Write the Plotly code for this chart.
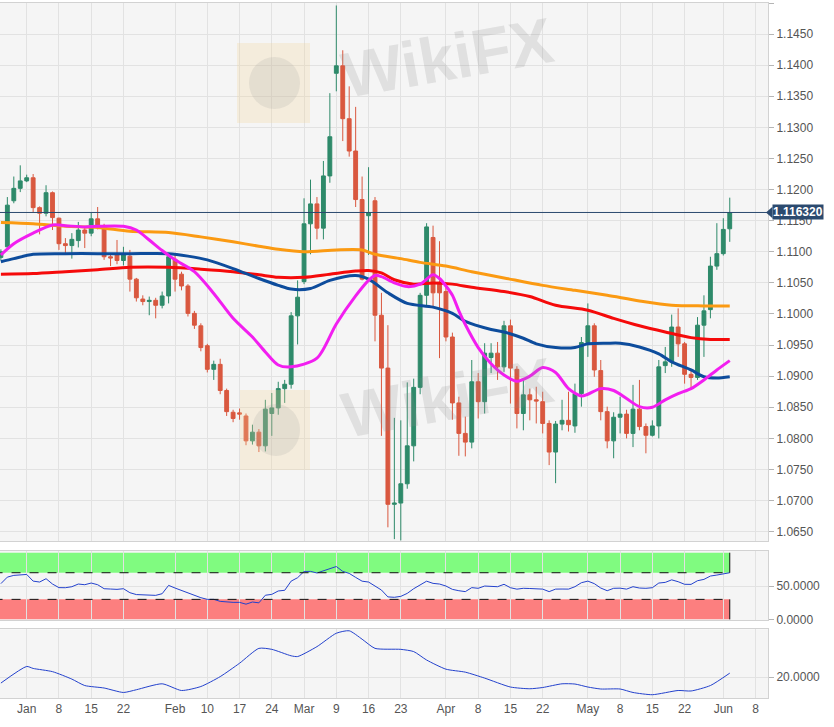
import pandas as pd
import plotly.graph_objects as go
from plotly.subplots import make_subplots

# ------------------------------------------------------------------ data
candle_dates = [d.strftime("%Y-%m-%d") for d in pd.bdate_range("2019-12-24", "2020-06-02")]

opens = [
    1.1089, 1.1090, 1.1091, 1.1108, 1.1182, 1.1202,                      # Dec
    1.1214, 1.1219, 1.1171, 1.1162, 1.1195, 1.1154, 1.1113, 1.1110, 1.1118, 1.1135,
    1.1130, 1.1153, 1.1141, 1.1092, 1.1095, 1.1086, 1.1093, 1.1056, 1.1024, 1.1020,
    1.1022, 1.1014, 1.1029,                                              # Jan
    1.1088, 1.1064, 1.1045, 1.1001, 1.0981, 1.0949, 1.0911, 1.0919, 1.0877, 1.0842,
    1.0841, 1.0836, 1.0796, 1.0810, 1.0788, 1.0840, 1.0849, 1.0880, 1.0887, 1.0997,  # Feb
    1.1052, 1.1145, 1.1177, 1.1138, 1.1222, 1.1387, 1.1399, 1.1314, 1.1262, 1.1184,
    1.1158, 1.1182, 1.0998, 1.0913, 1.0694, 1.0696, 1.0727, 1.0788, 1.0882, 1.1030,
    1.1123, 1.1051,                                                      # Mar
    1.1036, 1.0963, 1.0857, 1.0808, 1.0794, 1.0891, 1.0859, 1.0930, 1.0937, 1.0915,
    1.0981, 1.0911, 1.0840, 1.0870, 1.0862, 1.0859, 1.0824, 1.0778, 1.0823, 1.0829,
    1.0820, 1.0872,                                                      # Apr
    1.0954, 1.0981, 1.0909, 1.0843, 1.0796, 1.0834, 1.0839, 1.0808, 1.0847, 1.0819,
    1.0805, 1.0820, 1.0917, 1.0923, 1.0979, 1.0952, 1.0903, 1.0898, 1.0982, 1.1007,
    1.1077,                                                              # May
    1.1097, 1.1137,                                                      # Jun
]
highs = [
    1.1093, 1.1095, 1.1104, 1.1188, 1.1221, 1.1239,
    1.1224, 1.1225, 1.1173, 1.1207, 1.1197, 1.1155, 1.1122, 1.1130, 1.1148, 1.1140,
    1.1163, 1.1172, 1.1145, 1.1096, 1.1119, 1.1108, 1.1103, 1.1058, 1.1030, 1.1028,
    1.1026, 1.1036, 1.1097,
    1.1095, 1.1068, 1.1048, 1.1005, 1.0985, 1.0952, 1.0925, 1.0928, 1.0880, 1.0846,
    1.0848, 1.0840, 1.0822, 1.0815, 1.0862, 1.0873, 1.0891, 1.0894, 1.1003, 1.1054,
    1.1186, 1.1216, 1.1188, 1.1246, 1.1355, 1.1496, 1.1424, 1.1366, 1.1333, 1.1221,
    1.1236, 1.1188, 1.1034, 1.0982, 1.0833, 1.0829, 1.0890, 1.0896, 1.1034, 1.1146,
    1.1142, 1.1117,
    1.1045, 1.0970, 1.0867, 1.0835, 1.0926, 1.0905, 1.0953, 1.0953, 1.0955, 1.0989,
    1.0991, 1.0916, 1.0896, 1.0880, 1.0883, 1.0875, 1.0829, 1.0828, 1.0862, 1.0875,
    1.0888, 1.0963,
    1.1017, 1.0985, 1.0926, 1.0851, 1.0842, 1.0867, 1.0846, 1.0886, 1.0894, 1.0824,
    1.0829, 1.0926, 1.0947, 1.0999, 1.1009, 1.0955, 1.0910, 1.0995, 1.1030, 1.1092,
    1.1146,
    1.1154, 1.1187,
]
lows = [
    1.1082, 1.1086, 1.1086, 1.1105, 1.1178, 1.1196,
    1.1212, 1.1164, 1.1128, 1.1157, 1.1135, 1.1103, 1.1095, 1.1089, 1.1107, 1.1106,
    1.1125, 1.1136, 1.1087, 1.1077, 1.1080, 1.1078, 1.1036, 1.1020, 1.1014, 1.0998,
    1.0993, 1.1009, 1.1017,
    1.1036, 1.1038, 1.0996, 1.0976, 1.0940, 1.0906, 1.0894, 1.0871, 1.0836, 1.0826,
    1.0830, 1.0789, 1.0790, 1.0778, 1.0779, 1.0804, 1.0838, 1.0857, 1.0880, 1.0951,
    1.1048, 1.1096, 1.1120, 1.1120, 1.1211, 1.1358, 1.1278, 1.1253, 1.1172, 1.1054,
    1.1095, 1.0956, 1.0804, 1.0657, 1.0638, 1.0636, 1.0719, 1.0763, 1.0871, 1.1012,
    1.1012, 1.0929,
    1.0956, 1.0830, 1.0772, 1.0771, 1.0784, 1.0832, 1.0840, 1.0905, 1.0894, 1.0907,
    1.0856, 1.0816, 1.0813, 1.0829, 1.0824, 1.0808, 1.0757, 1.0728, 1.0813, 1.0811,
    1.0809, 1.0851,
    1.0931, 1.0899, 1.0829, 1.0784, 1.0768, 1.0808, 1.0800, 1.0786, 1.0813, 1.0776,
    1.0803, 1.0800, 1.0905, 1.0915, 1.0931, 1.0888, 1.0878, 1.0894, 1.0931, 1.0993,
    1.1071,
    1.1094, 1.1116,
]
closes = [
    1.1090, 1.1091, 1.1100, 1.1175, 1.1202, 1.1214,
    1.1219, 1.1171, 1.1162, 1.1195, 1.1155, 1.1113, 1.1110, 1.1120, 1.1135, 1.1130,
    1.1153, 1.1141, 1.1092, 1.1090, 1.1086, 1.1095, 1.1056, 1.1026, 1.1020, 1.1022,
    1.1014, 1.1029, 1.1092,
    1.1056, 1.1045, 1.1001, 1.0982, 1.0946, 1.0911, 1.0919, 1.0877, 1.0843, 1.0832,
    1.0839, 1.0796, 1.0810, 1.0788, 1.0847, 1.0849, 1.0880, 1.0887, 1.0997, 1.1027,
    1.1145, 1.1177, 1.1138, 1.1222, 1.1285, 1.1399, 1.1314, 1.1262, 1.1184, 1.1056,
    1.1163, 1.0998, 1.0913, 1.0694, 1.0696, 1.0727, 1.0788, 1.0882, 1.1030, 1.1140,
    1.1034, 1.1034,
    1.0963, 1.0857, 1.0808, 1.0794, 1.0891, 1.0859, 1.0937, 1.0937, 1.0915, 1.0981,
    1.0913, 1.0840, 1.0870, 1.0862, 1.0860, 1.0824, 1.0778, 1.0823, 1.0829, 1.0822,
    1.0872, 1.0954,
    1.0981, 1.0910, 1.0843, 1.0796, 1.0834, 1.0839, 1.0808, 1.0847, 1.0819, 1.0805,
    1.0820, 1.0915, 1.0923, 1.0979, 1.0952, 1.0903, 1.0898, 1.0982, 1.1005, 1.1077,
    1.1097,
    1.1136, 1.1163,
]
last_price = 1.116320

# moving averages
ma_fast_dates = ["2019-12-26", "2019-12-30", "2020-01-02", "2020-01-07", "2020-01-09", "2020-01-14",
                 "2020-01-16", "2020-01-22", "2020-01-24", "2020-01-28", "2020-01-30", "2020-02-03",
                 "2020-02-06", "2020-02-11", "2020-02-14", "2020-02-19", "2020-02-21", "2020-02-25",
                 "2020-02-27", "2020-03-04", "2020-03-09", "2020-03-12", "2020-03-16", "2020-03-17",
                 "2020-03-18", "2020-03-20", "2020-03-24", "2020-03-26", "2020-03-30", "2020-03-31",
                 "2020-04-01", "2020-04-02", "2020-04-03", "2020-04-06", "2020-04-08", "2020-04-10",
                 "2020-04-14", "2020-04-16", "2020-04-20", "2020-04-22", "2020-04-24", "2020-04-28",
                 "2020-04-30", "2020-05-01", "2020-05-05", "2020-05-07", "2020-05-11", "2020-05-13",
                 "2020-05-15", "2020-05-19", "2020-05-21", "2020-05-25", "2020-05-27", "2020-05-29",
                 "2020-06-02"]
ma_fast_values = [1.1095, 1.1113, 1.1130, 1.1143, 1.1142, 1.1140,
                  1.1141, 1.1141, 1.1135, 1.1119, 1.1102, 1.1087,
                  1.1068, 1.1033, 1.0993, 1.0963, 1.0939, 1.0918,
                  1.0915, 1.0929, 1.0984, 1.1029, 1.1054, 1.1062,
                  1.1060, 1.1050, 1.1044, 1.1048, 1.1063, 1.1057,
                  1.1045, 1.1030, 1.1005, 1.0983, 1.0946, 1.0920,
                  1.0902, 1.0892, 1.0900, 1.0914, 1.0906, 1.0880,
                  1.0868, 1.0871, 1.0880, 1.0877, 1.0864, 1.0851,
                  1.0850, 1.0862, 1.0872, 1.0880, 1.0894, 1.0910,
                  1.0925]

ma_mid_dates = ["2019-12-26", "2019-12-30", "2020-01-02", "2020-01-09", "2020-01-16", "2020-01-23",
                "2020-01-31", "2020-02-05", "2020-02-10", "2020-02-14", "2020-02-20", "2020-02-25",
                "2020-02-27", "2020-03-03", "2020-03-06", "2020-03-12", "2020-03-16", "2020-03-19",
                "2020-03-24", "2020-03-30", "2020-04-02", "2020-04-06", "2020-04-10", "2020-04-14",
                "2020-04-17", "2020-04-21", "2020-04-24", "2020-04-29", "2020-05-01", "2020-05-06",
                "2020-05-08", "2020-05-13", "2020-05-18", "2020-05-20", "2020-05-25", "2020-05-27",
                "2020-05-29", "2020-06-02"]
ma_mid_values = [1.1084, 1.1089, 1.1096, 1.1097, 1.1097, 1.1097,
                 1.1097, 1.1093, 1.1087, 1.1073, 1.1057, 1.1046,
                 1.1040, 1.1041, 1.1054, 1.1062, 1.1056, 1.1034,
                 1.1017, 1.1011, 1.1001, 1.0988, 1.0975, 1.0971,
                 1.0961, 1.0952, 1.0946, 1.0946, 1.0952, 1.0953,
                 1.0953, 1.0947, 1.0936, 1.0923, 1.0910, 1.0899,
                 1.0897, 1.0899]

ma_slow_dates = ["2019-12-26", "2020-01-02", "2020-01-09", "2020-01-16", "2020-01-23", "2020-01-31",
                 "2020-02-07", "2020-02-14", "2020-02-20", "2020-02-25", "2020-03-02", "2020-03-06",
                 "2020-03-12", "2020-03-16", "2020-03-18", "2020-03-20", "2020-03-25", "2020-03-30",
                 "2020-04-02", "2020-04-07", "2020-04-14", "2020-04-20", "2020-04-24", "2020-05-01",
                 "2020-05-07", "2020-05-13", "2020-05-19", "2020-05-25", "2020-05-28", "2020-06-02"]
ma_slow_values = [1.1064, 1.1065, 1.1068, 1.1071, 1.1075, 1.1075,
                  1.1072, 1.1068, 1.1063, 1.1059, 1.1059, 1.1064,
                  1.1069, 1.1070, 1.1066, 1.1055, 1.1048, 1.1050,
                  1.1048, 1.1043, 1.1036, 1.1028, 1.1014, 1.1006,
                  1.0993, 1.0981, 1.0971, 1.0962, 1.0959, 1.0959]

ma_long_dates = ["2019-12-26", "2020-01-02", "2020-01-09", "2020-01-16", "2020-01-23", "2020-01-31",
                 "2020-02-07", "2020-02-14", "2020-02-20", "2020-02-25", "2020-03-02", "2020-03-09",
                 "2020-03-13", "2020-03-17", "2020-03-23", "2020-03-26", "2020-04-01", "2020-04-07",
                 "2020-04-14", "2020-04-22", "2020-04-29", "2020-05-06", "2020-05-13", "2020-05-20",
                 "2020-05-27", "2020-06-02"]
ma_long_values = [1.1147, 1.1145, 1.1141, 1.1139, 1.1133, 1.1131,
                  1.1124, 1.1116, 1.1109, 1.1104, 1.1100, 1.1103,
                  1.1103, 1.1096, 1.1089, 1.1083, 1.1077, 1.1068,
                  1.1058, 1.1046, 1.1038, 1.1030, 1.1021, 1.1014,
                  1.1013, 1.1013]

# RSI (one value per candle from Dec 26)
rsi_dates = candle_dates[2:]
rsi_values = [
    53.6, 63.4, 66.0, 67.2,
    67.4, 57.4, 56.0, 61.0, 53.0, 47.6, 47.5, 49.0, 53.0, 52.0, 54.5, 52.0, 46.0,
    45.5, 45.0, 46.0, 40.0, 37.2, 36.5, 36.0, 36.0, 38.5, 51.0,
    47.0, 43.6, 39.0, 36.0, 32.5, 30.0, 30.0, 27.0, 26.0, 25.5, 25.5, 22.8, 26.0,
    24.8, 36.2, 37.5, 42.6, 43.6, 57.4, 62.5,
    71.9, 72.0, 69.6, 72.5, 75.5, 79.3, 72.0, 69.0, 63.0, 57.3, 56.0, 50.6, 44.0,
    33.7, 33.1, 34.5, 39.0, 46.0, 52.0, 57.3, 54.0, 53.0,
    50.0, 45.0, 43.0, 41.6, 47.6, 46.6, 50.0, 49.5, 49.0, 52.6, 47.5, 45.3, 46.6,
    46.3, 46.0, 45.4, 41.6, 45.4, 45.5, 45.4, 49.0, 55.0,
    57.4, 53.6, 47.0, 43.0, 46.6, 46.8, 45.4, 49.0, 47.0, 46.6, 47.5, 54.5, 55.5,
    59.3, 56.5, 52.6, 52.5, 58.0, 60.0, 65.0, 66.5,
    68.0, 70.0,
]
rsi_upper, rsi_lower = 70, 30

# ADX
adx_dates = ["2019-12-26", "2020-01-01", "2020-01-02", "2020-01-07", "2020-01-10", "2020-01-14",
             "2020-01-17", "2020-01-22", "2020-01-24", "2020-01-30", "2020-02-04", "2020-02-07",
             "2020-02-12", "2020-02-17", "2020-02-20", "2020-02-24", "2020-02-27", "2020-02-28",
             "2020-03-04", "2020-03-09", "2020-03-11", "2020-03-13", "2020-03-17", "2020-03-23",
             "2020-03-25", "2020-03-27", "2020-04-01", "2020-04-06", "2020-04-09", "2020-04-15",
             "2020-04-20", "2020-04-22", "2020-04-27", "2020-04-29", "2020-05-01", "2020-05-05",
             "2020-05-08", "2020-05-12", "2020-05-15", "2020-05-21", "2020-05-25", "2020-05-28",
             "2020-06-02"]
adx_values = [17.6, 24.3, 23.5, 22.2, 19.2, 16.6,
              15.6, 13.8, 14.9, 17.3, 14.6, 16.2,
              20.2, 25.6, 31.6, 31.2, 28.6, 28.3,
              32.3, 37.7, 38.7, 35.3, 31.6, 31.2,
              30.3, 26.9, 23.2, 22.0, 19.6, 16.0,
              15.3, 15.8, 17.3, 17.2, 16.0, 15.2,
              15.2, 13.8, 12.9, 14.6, 14.4, 16.6,
              21.6]

tick_dates = ["2020-01-01", "2020-01-08", "2020-01-15", "2020-01-22", "2020-02-03", "2020-02-10",
              "2020-02-17", "2020-02-24", "2020-03-02", "2020-03-09", "2020-03-16", "2020-03-23",
              "2020-04-01", "2020-04-08", "2020-04-15", "2020-04-22", "2020-05-01", "2020-05-08",
              "2020-05-15", "2020-05-22", "2020-06-01", "2020-06-08"]
tick_labels = ["Jan", "8", "15", "22", "Feb", "10", "17", "24", "Mar", "9", "16", "23",
               "Apr", "8", "15", "22", "May", "8", "15", "22", "Jun", "8"]

# ------------------------------------------------------------------ axis helpers
axis_days = [d.strftime("%Y-%m-%d") for d in pd.bdate_range("2019-12-24", "2020-06-12")]
pos = {d: i for i, d in enumerate(axis_days)}


def P(ds):
    return [pos[d] for d in ds]


jan1 = pos["2020-01-01"]
x_range = [jan1 - 4.14, jan1 + 114.93]
price_range = [1.0635, 1.1500]
rsi_range = [-1, 103]
adx_range = [11.57, 39.28]
dom_main = [0.2259, 1.0]
dom_rsi = [0.1122, 0.2119]
dom_adx = [0.0, 0.0988]

GREEN = "#2e8a6a"
RED = "#d9583f"
NAVY = "#2b4a6f"
GRID = "#e2e2e2"
BORDER = "#d2d2d2"
FONT = "Liberation Sans, Arial, Helvetica, sans-serif"

fig = make_subplots(rows=3, cols=1, shared_xaxes=True, vertical_spacing=0.01)

fig.add_trace(go.Candlestick(
    x=P(candle_dates), open=opens, high=highs, low=lows, close=closes,
    increasing=dict(line=dict(color=GREEN, width=1), fillcolor=GREEN),
    decreasing=dict(line=dict(color=RED, width=1), fillcolor=RED),
    whiskerwidth=0, showlegend=False, hoverinfo="skip"), row=1, col=1)

for dts, vals, col in [(ma_long_dates, ma_long_values, "#fb9a12"),
                       (ma_slow_dates, ma_slow_values, "#f50a0a"),
                       (ma_mid_dates, ma_mid_values, "#0d4c9c"),
                       (ma_fast_dates, ma_fast_values, "#f21ef0")]:
    fig.add_trace(go.Scatter(x=P(dts), y=vals, mode="lines",
                             line=dict(color=col, width=3, shape="spline", smoothing=0.8),
                             showlegend=False, hoverinfo="skip"), row=1, col=1)

fig.add_trace(go.Scatter(x=P(rsi_dates), y=rsi_values, mode="lines",
                         line=dict(color="#2341cc", width=1), showlegend=False,
                         hoverinfo="skip"), row=2, col=1)
fig.add_trace(go.Scatter(x=P(adx_dates), y=adx_values, mode="lines",
                         line=dict(color="#2341cc", width=1, shape="spline", smoothing=0.6),
                         showlegend=False, hoverinfo="skip"), row=3, col=1)

# RSI zones
x_last = pos[candle_dates[-1]]
fig.add_shape(type="rect", xref="x2", yref="y2", x0=x_range[0] - 1, x1=x_last,
              y0=rsi_upper, y1=100, fillcolor="#80fb80", line_width=0, layer="below")
fig.add_shape(type="rect", xref="x2", yref="y2", x0=x_range[0] - 1, x1=x_last,
              y0=0, y1=rsi_lower, fillcolor="#fc7f7f", line_width=0, layer="below")
for lvl in (rsi_upper, rsi_lower):
    fig.add_shape(type="line", xref="x2", yref="y2", x0=x_range[0] - 1, x1=x_last,
                  y0=lvl, y1=lvl, line=dict(color="#111", width=1, dash="dash"))
fig.add_shape(type="line", xref="x2", yref="y2", x0=x_last, x1=x_last, y0=rsi_upper, y1=100,
              line=dict(color="#111", width=1))
fig.add_shape(type="line", xref="x2", yref="y2", x0=x_last, x1=x_last, y0=0, y1=rsi_lower,
              line=dict(color="#111", width=1))

# last price line + label
fig.add_shape(type="line", xref="x domain", yref="y", x0=0, x1=1, y0=last_price, y1=last_price,
              line=dict(color=NAVY, width=1))
yp = dom_main[0] + (last_price - price_range[0]) / (price_range[1] - price_range[0]) * (dom_main[1] - dom_main[0])
h = 5.8 / 695
fig.add_shape(type="path", xref="paper", yref="paper",
              path=f"M {766/768},{yp} L {772.5/768},{yp + h} L {772.5/768},{yp - h} Z",
              fillcolor=NAVY, line_width=0)
fig.add_annotation(x=1, xref="paper", xanchor="left", xshift=4, y=last_price, yref="y",
                   yanchor="middle", text="<b>1.116320</b>", showarrow=False, bgcolor=NAVY,
                   borderpad=0, font=dict(color="white", size=12, family=FONT))

# watermarks
for (lx0, ly0, lx1, ly1), (tx, ty) in [((237, 43, 310, 123), (447, 58)),
                                       ((240, 390, 310, 470), (447, 398))]:
    fig.add_shape(type="rect", xref="paper", yref="paper",
                  x0=lx0 / 768, x1=lx1 / 768, y0=(698 - ly1) / 695, y1=(698 - ly0) / 695,
                  fillcolor="rgba(244,214,150,0.26)", line_width=0, layer="above")
    fig.add_shape(type="circle", xref="paper", yref="paper",
                  x0=(lx0 + 12) / 768, x1=(lx1 - 10) / 768,
                  y0=(698 - ly1 + 14) / 695, y1=(698 - ly0 - 14) / 695,
                  fillcolor="rgba(150,150,150,0.16)", line_width=0, layer="above")
    fig.add_annotation(x=tx / 768, y=(698 - ty) / 695, xref="paper", yref="paper",
                       xanchor="center", yanchor="middle",
                       text="<b>WikiFX</b>", showarrow=False, textangle=-10,
                       font=dict(size=64, color="rgba(140,140,140,0.20)", family=FONT))

# ------------------------------------------------------------------ axes / layout
axis_font = dict(size=12, color="#555", family=FONT)
fig.update_xaxes(range=x_range, tickvals=P(tick_dates), ticktext=tick_labels,
                 showgrid=True, gridcolor=GRID, gridwidth=1, zeroline=False,
                 showline=True, mirror=True, linecolor=BORDER, ticks="",
                 tickfont=axis_font, rangeslider_visible=False)
fig.update_xaxes(showticklabels=False, row=1, col=1)
fig.update_xaxes(showticklabels=False, row=2, col=1)
fig.update_xaxes(showticklabels=True, row=3, col=1)

common_y = dict(side="right", showgrid=True, gridcolor=GRID, zeroline=False,
                showline=True, mirror=True, linecolor=BORDER, ticks="outside",
                ticklen=5, tickcolor="#b5b5b5", tickfont=axis_font, fixedrange=True)
fig.update_layout(
    yaxis=dict(domain=dom_main, range=price_range, tick0=1.065, dtick=0.005,
               tickformat=".4f", **common_y),
    yaxis2=dict(domain=dom_rsi, range=rsi_range, tickvals=[0, 50],
                ticktext=["0.0000", "50.0000"], **common_y),
    yaxis3=dict(domain=dom_adx, range=adx_range, tickvals=[20],
                ticktext=["20.0000"], **common_y),
)

fig.update_layout(
    width=834, height=727,
    margin=dict(l=0, r=66, t=3, b=29),
    paper_bgcolor="white",
    plot_bgcolor="#f5f5f5",
    boxgap=0.15,
    showlegend=False,
    font=dict(family=FONT),
)

fig.write_html("out.html", config={"displayModeBar": False},
               post_script="document.body.style.margin='0px';document.body.style.padding='0px';")
